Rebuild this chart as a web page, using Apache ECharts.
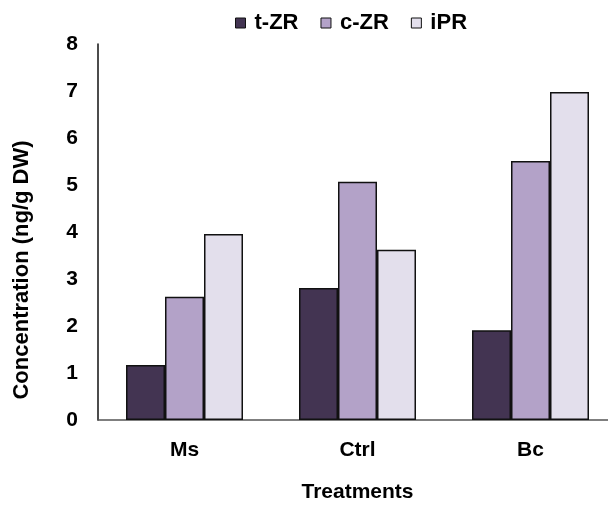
<!DOCTYPE html>
<html>
<head>
<meta charset="utf-8">
<script src="https://cdn.jsdelivr.net/npm/echarts@6/dist/echarts.min.js"></script>
<style>
  html, body { margin: 0; padding: 0; background: #fff; }
  #chart { width: 608px; height: 506px; }
</style>
</head>
<body>
<div id="chart"></div>
<script>
// Cytokinin concentrations per treatment (ng/g DW)
const treatments = ['Ms', 'Ctrl', 'Bc'];
const tZR = [1.17, 2.81, 1.91];
const cZR = [2.62, 5.07, 5.51];
const iPR = [3.96, 3.62, 6.98];
const seriesNames = ['t-ZR', 'c-ZR', 'iPR'];
const yTicks = [0, 1, 2, 3, 4, 5, 6, 7, 8];

const colors = ['#433452', '#b3a2c8', '#e3dfec'];
const font = 'Liberation Sans, Arial, sans-serif';
const boldText = (size) => ({ fontFamily: font, fontWeight: 'bold', fontSize: size, color: '#000' });

function bar(name, data, color) {
  return {
    name: name,
    type: 'bar',
    data: data,
    barWidth: 39,
    barGap: '0%',
    itemStyle: { color: color, borderColor: '#111', borderWidth: 1.5 }
  };
}

const chart = echarts.init(document.getElementById('chart'));
chart.setOption({
  animation: false,
  textStyle: { fontFamily: font },
  color: colors,
  legend: {
    top: 7,
    left: 230,
    itemWidth: 10,
    itemHeight: 10,
    itemGap: 22,
    icon: 'rect',
    itemStyle: { borderColor: '#111', borderWidth: 1 },
    textStyle: Object.assign({ padding: [0, 0, 0, 4] }, boldText(22)),
    data: seriesNames
  },
  grid: { left: 98, top: 44, width: 519, height: 376, outerBoundsMode: 'none', containLabel: false },
  xAxis: {
    type: 'category',
    data: treatments,
    name: 'Treatments',
    nameLocation: 'middle',
    nameGap: 62,
    nameTextStyle: boldText(21),
    axisLine: { lineStyle: { color: '#555', width: 1.5 } },
    axisTick: { show: false },
    axisLabel: Object.assign({ margin: 20 }, boldText(21))
  },
  yAxis: {
    type: 'value',
    min: yTicks[0],
    max: yTicks[yTicks.length - 1],
    interval: 1,
    name: 'Concentration (ng/g DW)',
    nameLocation: 'middle',
    nameGap: 65,
    nameTextStyle: Object.assign({ padding: [0, 76, 0, 0] }, boldText(22)),
    axisLine: { show: true, lineStyle: { color: '#111', width: 1.5 } },
    axisTick: { show: false },
    splitLine: { show: false },
    axisLabel: Object.assign({ margin: 20 }, boldText(21))
  },
  series: [
    bar(seriesNames[0], tZR, colors[0]),
    bar(seriesNames[1], cZR, colors[1]),
    bar(seriesNames[2], iPR, colors[2])
  ]
});
</script>
</body>
</html>
